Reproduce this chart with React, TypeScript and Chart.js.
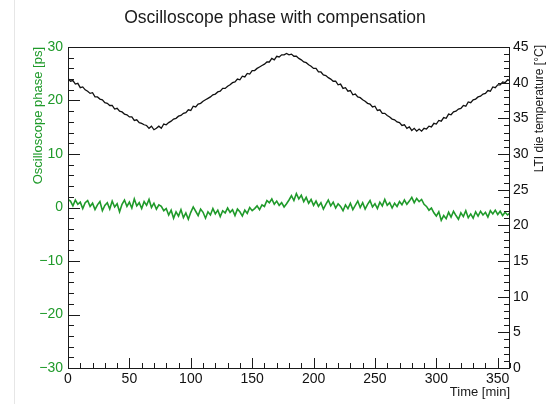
import React, { useEffect, useRef } from "react";
import { Chart, registerables } from "chart.js";

Chart.register(...registerables);

const timeMin = [
  0, 2, 4, 6, 8, 10, 12, 14, 16, 18, 20, 22, 24, 26, 28, 30, 32, 34, 36, 38,
  40, 42, 44, 46, 48, 50, 52, 54, 56, 58, 60, 62, 64, 66, 68, 70, 72, 74, 76, 78,
  80, 82, 84, 86, 88, 90, 92, 94, 96, 98, 100, 102, 104, 106, 108, 110, 112, 114, 116, 118,
  120, 122, 124, 126, 128, 130, 132, 134, 136, 138, 140, 142, 144, 146, 148, 150, 152, 154, 156, 158,
  160, 162, 164, 166, 168, 170, 172, 174, 176, 178, 180, 182, 184, 186, 188, 190, 192, 194, 196, 198,
  200, 202, 204, 206, 208, 210, 212, 214, 216, 218, 220, 222, 224, 226, 228, 230, 232, 234, 236, 238,
  240, 242, 244, 246, 248, 250, 252, 254, 256, 258, 260, 262, 264, 266, 268, 270, 272, 274, 276, 278,
  280, 282, 284, 286, 288, 290, 292, 294, 296, 298, 300, 302, 304, 306, 308, 310, 312, 314, 316, 318,
  320, 322, 324, 326, 328, 330, 332, 334, 336, 338, 340, 342, 344, 346, 348, 350, 352, 354, 356, 358,
  360,
];

const dieTemperature = [
  40.6, 40.2, 40.3, 39.8, 39.9, 39.3, 39.4, 39.0, 38.8, 38.5, 38.6, 38.0, 38.0, 37.7, 37.6, 37.2, 37.1, 36.8, 36.8, 36.3,
  36.4, 36.0, 35.9, 35.6, 35.5, 35.2, 35.2, 34.7, 34.8, 34.4, 34.3, 34.1, 34.0, 33.6, 33.9, 33.4, 33.6, 33.9, 33.6, 34.2,
  34.1, 34.4, 34.6, 34.9, 35.0, 35.3, 35.4, 35.7, 35.8, 36.2, 36.1, 36.7, 36.6, 37.0, 37.1, 37.4, 37.6, 37.8, 38.0, 38.3,
  38.4, 38.7, 38.8, 39.2, 39.2, 39.5, 39.7, 40.0, 40.1, 40.5, 40.4, 40.9, 40.8, 41.3, 41.2, 41.7, 41.7, 42.0, 42.2, 42.4,
  42.6, 42.9, 42.9, 43.4, 43.2, 43.7, 43.6, 43.9, 43.9, 44.1, 43.9, 44.0, 43.7, 43.7, 43.4, 43.2, 42.9, 42.8, 42.5, 42.3,
  42.0, 42.0, 41.5, 41.5, 41.1, 41.0, 40.7, 40.5, 40.2, 40.2, 39.7, 39.8, 39.2, 39.3, 38.8, 38.9, 38.3, 38.4, 38.0, 37.9,
  37.6, 37.4, 37.1, 37.0, 36.6, 36.7, 36.1, 36.2, 35.7, 35.7, 35.4, 35.2, 34.9, 34.8, 34.5, 34.4, 34.0, 34.1, 33.6, 33.8,
  33.3, 33.6, 33.2, 33.5, 33.2, 33.6, 33.5, 33.9, 33.8, 34.3, 34.2, 34.7, 34.6, 35.1, 35.0, 35.6, 35.5, 35.9, 36.0, 36.3,
  36.4, 36.8, 36.7, 37.3, 37.2, 37.6, 37.7, 38.0, 38.1, 38.4, 38.5, 38.9, 38.8, 39.4, 39.3, 39.7, 39.7, 40.1, 40.0, 40.4,
  40.3,
];

const scopePhase = [
  1.5, 1.2, 0.3, 1.4, 0.6, 1.0, -0.2, 0.9, 1.3, 0.2, 0.8, -0.4, 0.5, 1.1, -0.6, 0.4, 0.9, -0.3, 1.2, 0.1,
  0.7, -0.8, 0.6, 1.4, 0.2, 1.0, -0.1, 1.6, 0.3, 0.9, -0.2, 1.1, 0.4, 1.5, 0.0, 0.8, -0.3, 0.5, 0.2, -0.6,
  -0.2, -1.4, -0.5, -2.0, -0.8, -1.6, -0.4, -1.9, -1.0, -2.2, -0.9, 0.1, -0.7, -1.5, -0.3, -0.9, -2.0, -0.8, -1.4, -0.2,
  -1.2, -0.5, -1.7, -0.6, -1.0, -0.1, -0.9, -0.4, -1.5, -0.3, -0.8, -1.6, -0.5, -1.1, 0.0, -0.6, -0.2, 0.3, -0.4, 0.5,
  0.2, 1.3, 0.9, 1.6, 0.6, 1.2, 0.4, 0.9, 0.1, 0.7, 1.4, 2.2, 1.3, 2.6, 1.6, 2.3, 1.1, 1.9, 0.8, 1.5,
  0.4, 1.2, 0.2, 0.9, -0.3, 0.6, 1.4, 0.3, 1.0, -0.1, 0.7, 0.2, -0.6, 0.5, -0.2, 0.8, -0.4, 0.4, 1.2, 0.0,
  0.9, -0.3, 0.6, 1.3, 0.1, 0.7, -0.2, 1.0, 0.3, 1.5, 0.4, 0.9, -0.1, 0.8, 0.2, 1.1, 0.5, 1.4, 0.6, 1.2,
  1.9, 0.9, 1.7, 1.1, 1.5, 0.6, 0.2, -0.5, -0.1, -1.0, -1.6, -0.8, -2.4, -1.5, -2.1, -0.9, -1.8, -0.7, -1.5, -2.2,
  -1.0, -1.7, -0.6, -1.9, -1.2, -2.0, -0.8, -1.6, -0.7, -1.4, -0.9, -1.8, -0.6, -1.2, -0.5, -1.3, -0.7, -1.5, -0.9, -1.4,
  -1.0,
];

const chartTitle = "Oscilloscope phase with compensation";
const phaseAxisTitle = "Oscilloscope phase [ps]";
const tempAxisTitle = "LTI die temperature [°C]";
const timeAxisTitle = "Time [min]";

const GREEN = "#1f9a2a";
const FONT = "'Liberation Sans', Arial, Helvetica, sans-serif";

const rootStylePlugin = {
  id: "rootStyle",
  afterDraw(chart: any) {
    const { ctx, chartArea } = chart;
    const { left, right, top, bottom } = chartArea;
    const x = chart.scales.x;
    const yL = chart.scales.yL;
    const yR = chart.scales.yR;
    ctx.save();
    ctx.strokeStyle = "#1a1a1a";
    ctx.lineWidth = 1;
    ctx.strokeRect(left + 0.5, top + 0.5, right - left - 1, bottom - top);
    ctx.beginPath();
    for (let v = 0; v <= x.max + 1e-9; v += 10) {
      const px = Math.round(x.getPixelForValue(v)) + 0.5;
      const len = v % 50 === 0 ? 10 : 5;
      ctx.moveTo(px, bottom);
      ctx.lineTo(px, bottom - len);
    }
    for (let v = yL.min; v <= yL.max + 1e-9; v += 2) {
      const py = Math.round(yL.getPixelForValue(v)) + 0.5;
      const len = Math.abs(v % 10) < 1e-9 ? 12 : 6;
      ctx.moveTo(left, py);
      ctx.lineTo(left + len, py);
    }
    for (let v = yR.min; v <= yR.max + 1e-9; v += 1) {
      const py = Math.round(yR.getPixelForValue(v)) + 0.5;
      const len = v % 5 === 0 ? 12 : 6;
      ctx.moveTo(right, py);
      ctx.lineTo(right - len, py);
    }
    ctx.stroke();

    ctx.fillStyle = "#1a1a1a";
    ctx.font = `17.5px ${FONT}`;
    ctx.textAlign = "center";
    ctx.textBaseline = "middle";
    ctx.fillText(chartTitle, 275, 18);

    ctx.save();
    ctx.translate(38, top);
    ctx.rotate(-Math.PI / 2);
    ctx.fillStyle = GREEN;
    ctx.font = `13px ${FONT}`;
    ctx.textAlign = "right";
    ctx.textBaseline = "middle";
    ctx.fillText(phaseAxisTitle, 0, 0);
    ctx.restore();

    ctx.save();
    ctx.translate(540, top - 2);
    ctx.rotate(-Math.PI / 2);
    ctx.fillStyle = "#1a1a1a";
    ctx.font = `12px ${FONT}`;
    ctx.textAlign = "right";
    ctx.textBaseline = "middle";
    ctx.fillText(tempAxisTitle, 0, 0);
    ctx.restore();

    ctx.fillStyle = "#1a1a1a";
    ctx.font = `13px ${FONT}`;
    ctx.textAlign = "right";
    ctx.textBaseline = "middle";
    ctx.fillText(timeAxisTitle, right, 392);
    ctx.restore();
  },
};

export default function App() {
  const canvasRef = useRef<HTMLCanvasElement | null>(null);

  useEffect(() => {
    const canvas = canvasRef.current;
    if (!canvas) return;
    const phasePoints = timeMin.map((t, i) => ({ x: t, y: scopePhase[i] }));
    const tempPoints = timeMin.map((t, i) => ({ x: t, y: dieTemperature[i] }));
    const chart = new Chart(canvas, {
      type: "line",
      data: {
        datasets: [
          {
            label: "phase",
            data: phasePoints,
            yAxisID: "yL",
            borderColor: GREEN,
            borderWidth: 1.6,
            pointRadius: 0,
            tension: 0,
          },
          {
            label: "temperature",
            data: tempPoints,
            yAxisID: "yR",
            borderColor: "#111111",
            borderWidth: 1.3,
            pointRadius: 0,
            tension: 0,
          },
        ],
      },
      plugins: [rootStylePlugin],
      options: {
        responsive: false,
        animation: false,
        events: [],
        layout: { padding: { top: 47, left: 0, right: 0, bottom: 0 } },
        plugins: {
          legend: { display: false },
          title: { display: false },
          tooltip: { enabled: false },
        },
        scales: {
          x: {
            type: "linear",
            min: 0,
            max: 360,
            grid: { display: false, drawTicks: false },
            border: { display: false },
            ticks: {
              stepSize: 50,
              includeBounds: false,
              maxRotation: 0,
              autoSkip: false,
              padding: 3,
              color: "#111111",
              font: { family: FONT, size: 14 },
            },
            afterFit(scale: any) {
              scale.height = 36;
            },
          },
          yL: {
            type: "linear",
            position: "left",
            min: -30,
            max: 30,
            grid: { display: false, drawTicks: false },
            border: { display: false },
            ticks: {
              stepSize: 10,
              padding: 5,
              color: GREEN,
              font: { family: FONT, size: 14 },
              callback: (v: any) => (Number(v) < 0 ? "\u2212" + Math.abs(Number(v)) : String(v)),
            },
            afterFit(scale: any) {
              scale.width = 68;
            },
          },
          yR: {
            type: "linear",
            position: "right",
            min: 0,
            max: 45,
            grid: { display: false, drawTicks: false },
            border: { display: false },
            ticks: {
              stepSize: 5,
              padding: 3,
              color: "#111111",
              font: { family: FONT, size: 14 },
            },
            afterFit(scale: any) {
              scale.width = 40;
            },
          },
        },
      },
    });
    return () => chart.destroy();
  }, []);

  return (
    <div style={{ position: "fixed", left: 0, top: 0, width: 550, height: 404, background: "#fff" }}>
      <div
        style={{ position: "absolute", left: 14, top: 0, width: 1, height: 404, background: "#e6e6e6" }}
      />
      <canvas ref={canvasRef} width={550} height={404} style={{ position: "absolute", left: 0, top: 0 }} />
    </div>
  );
}
